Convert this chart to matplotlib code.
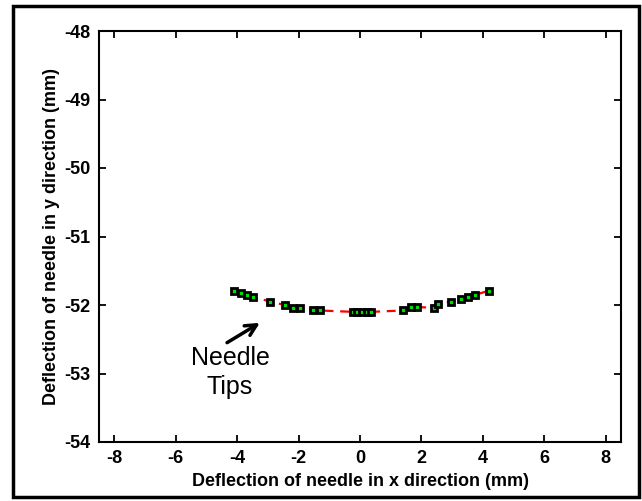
import matplotlib
matplotlib.use("Agg")
import matplotlib.pyplot as plt
from matplotlib.patches import Rectangle

plt.rcParams['font.family'] = ['Liberation Sans', 'DejaVu Sans']
plt.rcParams['axes.unicode_minus'] = False

x_tip = [-4.10, -3.89, -3.69, -3.48, -2.93, -2.44, -2.19, -1.95, -1.54, -1.30,
         -0.24, -0.09, 0.07, 0.22, 0.37, 1.39, 1.65, 1.87, 2.41, 2.54,
         2.95, 3.28, 3.52, 3.76, 4.21]
y_tip = [-51.79, -51.83, -51.86, -51.88, -51.95, -52.00, -52.04, -52.04, -52.08, -52.08,
         -52.10, -52.10, -52.10, -52.10, -52.10, -52.08, -52.03, -52.03, -52.04, -51.99,
         -51.95, -51.91, -51.88, -51.85, -51.79]
x_ticks = [-8, -6, -4, -2, 0, 2, 4, 6, 8]
y_ticks = [-54, -53, -52, -51, -50, -49, -48]

fig = plt.figure(figsize=(6.42, 5.01), dpi=100)
W, H = 642, 501
fig.patches.append(Rectangle((13 / W, 1 - 497 / H), (639 - 13) / W, (497 - 6) / H,
                             transform=fig.transFigure, fill=False, lw=2.5,
                             edgecolor='black', zorder=0))

ax = fig.add_axes([99 / W, 1 - 442 / H, (621 - 99) / W, (442 - 31) / H])
ax.plot(x_tip, y_tip, linestyle='--', color='red', lw=1.6, dashes=(4, 3), zorder=2)
ax.plot(x_tip, y_tip, linestyle='none', marker='s', markersize=3.9,
        markerfacecolor='#00dd00', markeredgecolor='black', markeredgewidth=2.0, zorder=3)

ax.set_xlim(-8.5, 8.5)
ax.set_ylim(-54, -48)
ax.set_xticks(x_ticks)
ax.set_yticks(y_ticks)
ax.tick_params(direction='in', length=5, width=1.3, top=True, right=True,
               labelsize=13, pad=6)
for lab in ax.get_xticklabels() + ax.get_yticklabels():
    lab.set_fontweight('bold')
for s in ax.spines.values():
    s.set_linewidth(1.5)

ax.set_xlabel('Deflection of needle in x direction (mm)', fontsize=13,
              fontweight='bold', labelpad=4)
ax.set_ylabel('Deflection of needle in y direction (mm)', fontsize=13,
              fontweight='bold', labelpad=3)

ax.text(-4.23, -52.98, 'Needle\nTips', fontsize=18, ha='center', va='center',
        linespacing=1.25)
ax.annotate('', xy=(-3.26, -52.26), xytext=(-4.33, -52.55),
            arrowprops=dict(arrowstyle='->', color='black', lw=2.5,
                            mutation_scale=20, shrinkA=0, shrinkB=0))

fig.savefig('out.png', dpi=100)
